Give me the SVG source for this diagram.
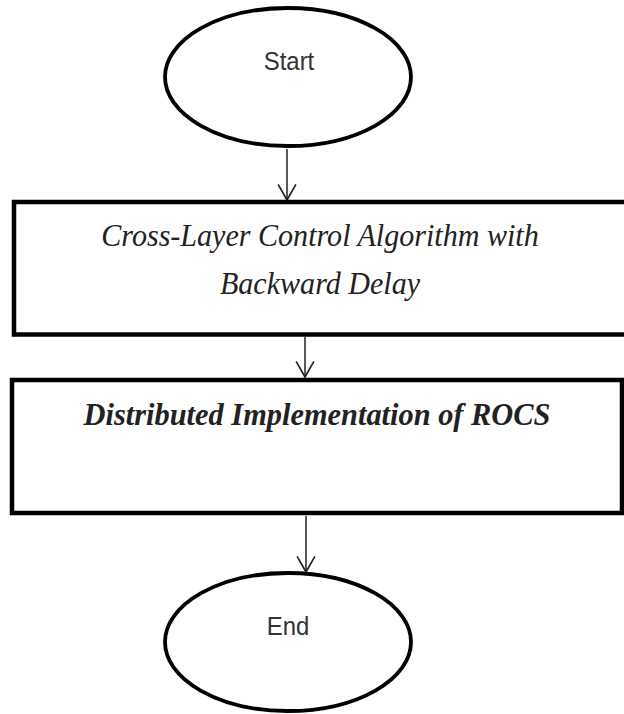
<svg xmlns="http://www.w3.org/2000/svg" width="624" height="714" viewBox="0 0 624 714">
<style>
.term{fill:#fff;stroke:#000;stroke-width:3.8}
.proc{fill:#fff;stroke:#000;stroke-width:4.5}
.sans{font-family:"Liberation Sans","Open Sans",sans-serif;font-size:26px;fill:#333;text-anchor:middle}
.serif{font-family:"Liberation Serif","Times New Roman",serif;font-size:32px;font-style:italic;fill:#222;text-anchor:middle}
.conn{stroke:#222;stroke-width:1.5;fill:none}
</style>
<defs>
<marker id="vhead" markerUnits="userSpaceOnUse" markerWidth="20" markerHeight="20" refX="9" refY="15" orient="0" viewBox="0 0 18 18">
<path d="M1,1 L9,15 L17,1" fill="none" stroke="#222" stroke-width="1.5"/>
</marker>
</defs>
<g id="connectors">
<line class="conn" x1="287" y1="149" x2="287" y2="200" marker-end="url(#vhead)"/>
<line class="conn" x1="305" y1="337" x2="305" y2="377" marker-end="url(#vhead)"/>
<line class="conn" x1="306" y1="516" x2="306" y2="572" marker-end="url(#vhead)"/>
</g>
<g id="start">
<ellipse class="term" cx="288" cy="77" rx="123" ry="69"/>
<text class="sans" transform="translate(289,70) scale(0.92,1)">Start</text>
</g>
<g id="crosslayer">
<rect class="proc" x="14" y="202" width="620" height="132.5"/>
<text class="serif" transform="translate(320,246) scale(0.94,1)">Cross-Layer Control Algorithm with</text>
<text class="serif" transform="translate(320,294) scale(0.94,1)">Backward Delay</text>
</g>
<g id="distributed">
<rect class="proc" x="12" y="380" width="610" height="133"/>
<text class="serif" transform="translate(317,425) scale(0.95,1)" font-weight="bold">Distributed Implementation of ROCS</text>
</g>
<g id="end">
<ellipse class="term" cx="288" cy="642" rx="123" ry="69"/>
<text class="sans" transform="translate(288,635) scale(0.92,1)">End</text>
</g>
</svg>
